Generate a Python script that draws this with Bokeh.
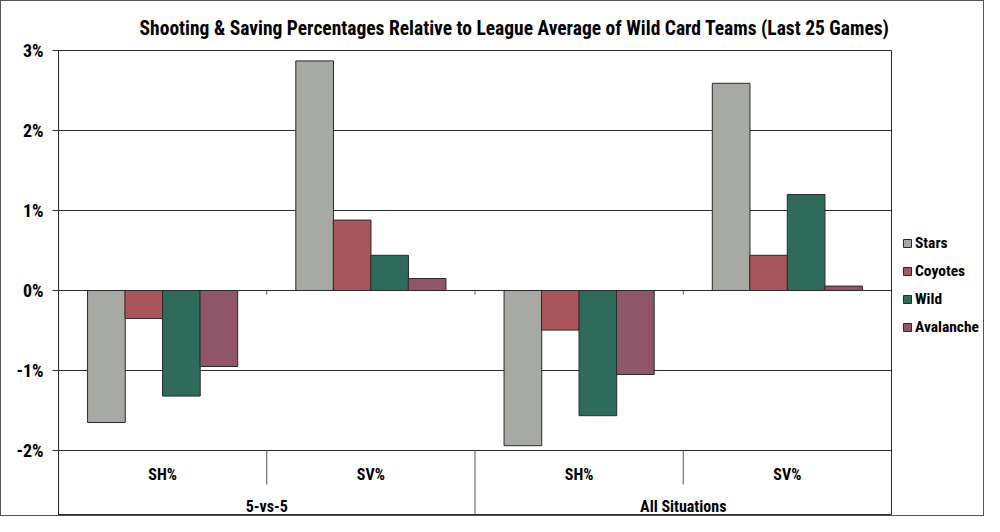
from bokeh.plotting import figure
from bokeh.layouts import row
from bokeh.models import (FactorRange, FixedTicker, Legend, LegendItem,
                          Range1d, ColumnDataSource)
from bokeh.transform import dodge
from bokeh.core.properties import value
from bokeh.embed import file_html
from bokeh.resources import INLINE

# ---------------- data ----------------
situations = ["5-vs-5", "All Situations"]
metrics = ["SH%", "SV%"]
teams = ["Stars", "Coyotes", "Wild", "Avalanche"]
stars = [-1.65, 2.87, -1.94, 2.59]
coyotes = [-0.35, 0.88, -0.495, 0.44]
wild = [-1.32, 0.44, -1.565, 1.20]
avalanche = [-0.95, 0.15, -1.05, 0.055]
y_ticks = [-2, -1, 0, 1, 2, 3]
y_tick_labels = ["-2%", "-1%", "0%", "1%", "2%", "3%"]
title_text = "Shooting & Saving Percentages Relative to League Average of Wild Card Teams (Last 25 Games)"

colors = ["#a7a9a4", "#a8555c", "#2f6b5b", "#8f5669"]
FONT = "'Roboto Condensed', 'DejaVu Sans Condensed', 'Liberation Sans'"
LINE = "#2a2a2a"
SEP = "#555555"

factors = [(s, m) for s in situations for m in metrics]
src = ColumnDataSource(dict(x=factors, Stars=stars, Coyotes=coyotes,
                            Wild=wild, Avalanche=avalanche))

H = 514
ML, MT, FW = 57, 49, 833
PW = ML + FW + 1
LW = 982 - PW
p = figure(width=PW, height=H, output_backend="svg", toolbar_location=None,
           x_range=FactorRange(factors=factors, factor_padding=0, group_padding=0,
                               subgroup_padding=0, range_padding=0),
           y_range=Range1d(-2.8125, 3.0),
           min_border_left=ML, min_border_top=MT, min_border_bottom=0,
           min_border_right=1, x_axis_location=None,
           background_fill_color="white", border_fill_color="white",
           outline_line_color=LINE, outline_line_width=1)

# title
p.title.text = title_text
p.title.text_font = FONT
p.title.text_font_style = "bold"
p.title.text_font_size = "19.5px"
p.title.align = "right"
p.title.offset = 2
p.title.standoff = 22
p.title.text_color = "black"

# y axis
ya = p.yaxis[0]
ya.ticker = FixedTicker(ticks=y_ticks)
ya.major_label_overrides = {t: l for t, l in zip(y_ticks, y_tick_labels)}
ya.major_label_text_font = FONT
ya.major_label_text_font_style = "bold"
ya.major_label_text_font_size = "18px"
ya.major_label_text_color = "black"
ya.major_tick_in = 0
ya.major_tick_out = 6
ya.minor_tick_line_color = None
ya.axis_line_color = LINE
ya.major_tick_line_color = LINE
ya.major_label_standoff = 9

p.ygrid.ticker = FixedTicker(ticks=y_ticks)
p.ygrid.grid_line_color = LINE
p.ygrid.grid_line_width = 1
p.xgrid.visible = False

# bars
offsets = [-0.27, -0.09, 0.09, 0.27]
for team, off, col in zip(teams, offsets, colors):
    p.vbar(x=dodge("x", off, range=p.x_range), top=team, bottom=0, width=0.181,
           source=src, fill_color=col, line_color=LINE, line_width=1)

# separators below the -2% line and small ticks on the zero line
def seps(bx, y0, y1):
    s = ColumnDataSource(dict(bx=bx, y0=[y0] * len(bx), y1=[y1] * len(bx)))
    p.segment(x0=dodge("bx", -0.5, range=p.x_range), x1=dodge("bx", -0.5, range=p.x_range),
              y0="y0", y1="y1", source=s, line_color=SEP, line_width=1)

seps([("5-vs-5", "SV%"), ("All Situations", "SV%")], -2, -2.425)
seps([("All Situations", "SH%")], -2, -2.82)
seps([("5-vs-5", "SV%"), ("All Situations", "SH%"), ("All Situations", "SV%")], 0, -0.05)

# category labels
sub_src = ColumnDataSource(dict(x=factors, y=[-2.296] * 4, t=[f[1] for f in factors]))
p.text(x="x", y="y", text="t", source=sub_src, text_font=value(FONT),
       text_font_style="bold", text_font_size="16px", text_align="center",
       text_baseline="middle", text_color="black")
grp_src = ColumnDataSource(dict(x=situations, y=[-2.7] * 2, t=situations))
p.text(x="x", y="y", text="t", source=grp_src, text_font=value(FONT),
       text_font_style="bold", text_font_size="16px", text_align="center",
       text_baseline="middle", text_color="black")

# legend panel (separate figure to the right of the plot frame)
lf = figure(width=LW, height=H, output_backend="svg", toolbar_location=None,
            x_range=Range1d(0, 1), y_range=Range1d(0, 1),
            min_border=0, x_axis_location=None, y_axis_location=None,
            outline_line_color=None, background_fill_color="white",
            border_fill_color="white")
lf.xgrid.visible = False
lf.ygrid.visible = False
items = []
for team, col in zip(teams, colors):
    # off-screen swatch renderer used only for the legend entry
    r = lf.vbar(x=[-5], top=[-5], bottom=[-6], width=0.1,
                fill_color=col, line_color=LINE, line_width=1)
    items.append(LegendItem(label=team, renderers=[r]))
legend = Legend(items=items, location=(10, 176), orientation="vertical",
                label_text_font=FONT, label_text_font_style="bold",
                label_text_font_size="15.5px", label_text_color="black",
                glyph_width=10, glyph_height=10, label_height=25, spacing=3,
                label_standoff=3, padding=0, margin=0, border_line_color=None,
                background_fill_alpha=0)
lf.add_layout(legend, "center")

layout = row(p, lf, spacing=0, styles={"border": "1px solid #555"})

open("out.html", "w").write(file_html(layout, INLINE))
